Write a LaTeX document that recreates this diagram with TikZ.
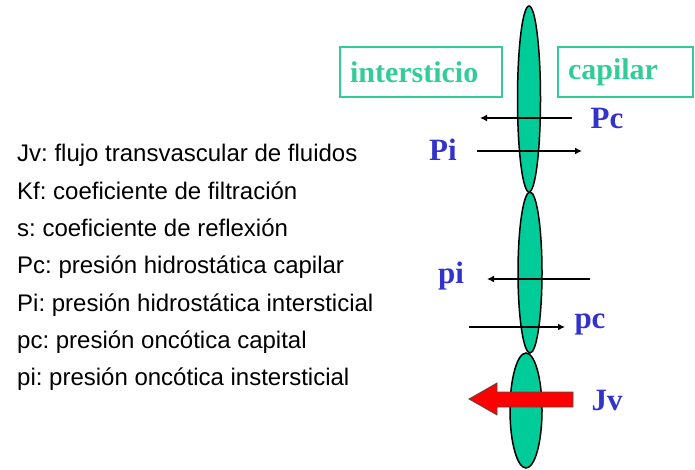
\documentclass[tikz,border=0pt]{standalone}
\usepackage{fontspec}
\setmainfont{Liberation Sans}
\newfontfamily\serifa{Liberation Serif}
\usetikzlibrary{shapes.geometric, arrows.meta}
\definecolor{verde}{RGB}{0,204,153}
\definecolor{verdeborde}{RGB}{51,204,153}
\definecolor{azul}{RGB}{51,51,204}
\frenchspacing

\begin{document}
\begin{tikzpicture}[x=1pt,y=-1pt,
  celula/.style={ellipse, draw=black, line width=1.5pt, fill=verde, inner sep=0pt},
  caja/.style={draw=verdeborde, line width=1.5pt, inner sep=10pt, minimum height=50pt, align=left, text=verdeborde, font=\serifa\bfseries\fontsize{30}{30}\selectfont},
  presion/.style={text=azul, inner sep=0pt, font=\serifa\bfseries\fontsize{31}{31}\selectfont},
  flecha/.style={line width=1.6pt, -{Latex[length=7pt,width=7pt]}}]
\useasboundingbox (0,0) rectangle (695,470);
% membrana
\node[celula, minimum width=23pt, minimum height=186pt] (e1) at (529,99) {};
\node[celula, minimum width=24pt, minimum height=161pt] (e2) at (530,272.5) {};
\node[celula, minimum width=32pt, minimum height=115pt] (e3) at (526,410.5) {};
% compartimentos
\node[caja, text width=142pt] (inter) at (421,72) {intersticio};
\node[caja, text width=115pt] (capi) at (625.5,72) {capilar};
% presiones
\node[presion] (Pc) at (607,118) {Pc};
\node[presion] (Pi) at (443,150) {Pi};
\node[presion] (pi) at (451,276) {pi};
\node[presion] (pc) at (590,324) {pc};
\node[presion] (Jv) at (607,400) {Jv};
\coordinate (Pc0) at (572,118); \coordinate (Pc1) at (480,118);
\coordinate (Pi0) at (477,151); \coordinate (Pi1) at (582,151);
\coordinate (pi0) at (590,279); \coordinate (pi1) at (487,279);
\coordinate (pc0) at (469,327); \coordinate (pc1) at (565,327);
\draw[flecha] (Pc0) -- (Pc1);
\draw[flecha] (Pi0) -- (Pi1);
\draw[flecha] (pi0) -- (pi1);
\draw[flecha] (pc0) -- (pc1);
% flujo neto
\draw[fill=red, draw=black!70, line width=0.8pt] (573,392) -- (497,392) -- (497,383) -- (469,399) -- (497,415) -- (497,407) -- (573,407) -- cycle;
% leyenda
\foreach \texto [count=\i] in {Jv: flujo transvascular de fluidos, Kf: coeficiente de filtración, s: coeficiente de reflexión, Pc: presión hidrostática capilar, Pi: presión hidrostática intersticial, pc: presión oncótica capital, pi: presión oncótica instersticial}
  \node[anchor=base west, inner sep=0pt, font=\fontsize{24}{28}\selectfont] (ley\i) at (17,{162+37.3*(\i-1)}) {\texto};
\end{tikzpicture}
\end{document}
